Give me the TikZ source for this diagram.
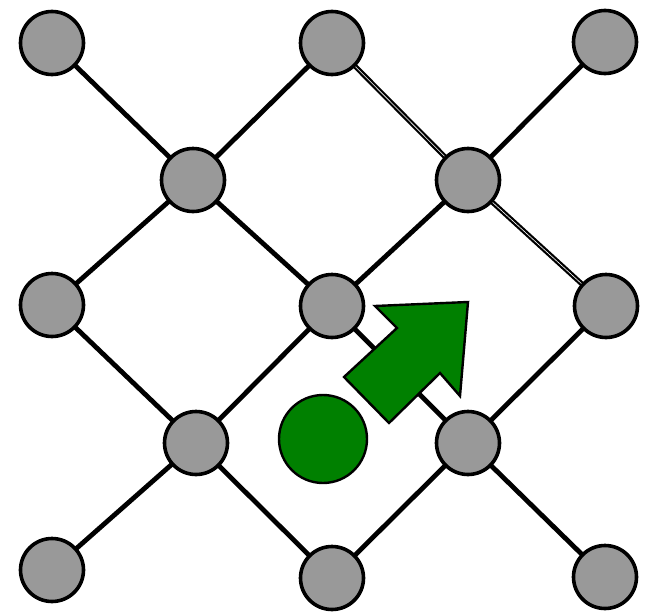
\documentclass[tikz,border=0pt]{standalone}
\begin{document}
\begin{tikzpicture}[x=1pt,y=-1pt,
  site/.style={circle,draw=black,fill=sitegray,line width=3.6pt,minimum size=63pt,inner sep=0pt},
  bond/.style={line width=4.8pt,draw=black},
  dbond/.style={line width=2.2pt,draw=black,double=white,double distance=0.6pt},
  greenshape/.style={fill=agreen,draw=black,line width=2.4pt,line join=miter}]
\definecolor{sitegray}{RGB}{153,153,153}
\definecolor{agreen}{RGB}{0,128,0}
\useasboundingbox (0,0) rectangle (645,613);
% nodes positions
\coordinate (p11) at (52,43);
\coordinate (p12) at (332,43);
\coordinate (p13) at (605,42);
\coordinate (p21) at (193,180);
\coordinate (p22) at (468,180);
\coordinate (p31) at (52,305);
\coordinate (p32) at (332,306);
\coordinate (p33) at (606,306);
\coordinate (p41) at (196,443);
\coordinate (p42) at (468,443);
\coordinate (p51) at (52,570);
\coordinate (p52) at (332,578);
\coordinate (p53) at (605,577);
% bonds
\draw[bond] (p11) -- (p21);
\draw[bond] (p12) -- (p21);
\draw[dbond] (p12) -- (p22);
\draw[bond] (p13) -- (p22);
\draw[bond] (p21) -- (p31);
\draw[bond] (p21) -- (p32);
\draw[bond] (p22) -- (p32);
\draw[dbond] (p22) -- (p33);
\draw[bond] (p31) -- (p41);
\draw[bond] (p32) -- (p41);
\draw[bond] (p32) -- (p42);
\draw[bond] (p33) -- (p42);
\draw[bond] (p41) -- (p51);
\draw[bond] (p41) -- (p52);
\draw[bond] (p42) -- (p52);
\draw[bond] (p42) -- (p53);
% sites
\foreach \n in {p11,p12,p13,p21,p22,p31,p32,p33,p41,p42,p51,p52,p53}
  \node[site] (s\n) at (\n) {};
% green particle and arrow
\node[circle,fill=agreen,draw=black,line width=2.4pt,minimum width=88pt,minimum height=86pt,inner sep=0pt] (ball) at (323,439) {};
\draw[greenshape] (468,302) -- (375,306) -- (397,328) -- (344,377) -- (389,423) -- (440,373) -- (460,396) -- cycle;
\end{tikzpicture}
\end{document}
